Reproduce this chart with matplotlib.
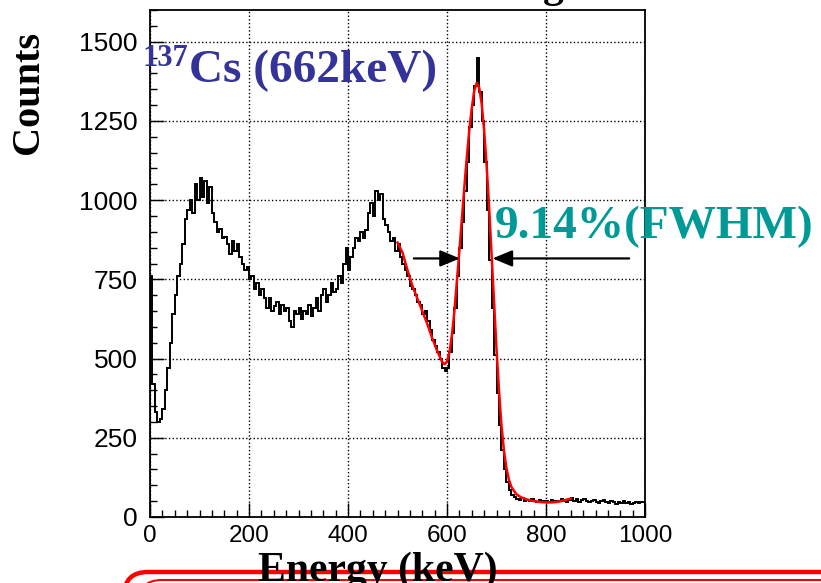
import numpy as np
import matplotlib
matplotlib.use("Agg")
import matplotlib.pyplot as plt
from matplotlib.patches import FancyBboxPatch
from matplotlib.ticker import MultipleLocator

# 137Cs spectrum, 5 keV bins from 0 to 1000 keV
bin_width = 5
counts = [
    760, 420, 330, 300, 310, 340, 400, 470, 550, 640,
    700, 760, 800, 860, 940, 970, 1000, 960, 1050, 1000,
    1070, 1010, 1060, 990, 1040, 960, 930, 900, 910, 880,
    885, 860, 830, 870, 840, 860, 820, 800, 780, 790,
    750, 760, 720, 740, 700, 720, 690, 660, 690, 650,
    665, 680, 640, 670, 650, 660, 620, 600, 650, 640,
    660, 625, 650, 640, 670, 635, 660, 690, 650, 700,
    720, 680, 700, 740, 710, 720, 760, 740, 800, 850,
    780, 820, 850, 880, 870, 900, 880, 905, 960, 990,
    950, 1030, 1000, 1020, 940, 920, 900, 870, 880, 840,
    860, 820, 800, 780, 760, 730, 720, 700, 680, 670,
    640, 650, 620, 590, 560, 540, 520, 500, 470, 460,
    470, 520, 580, 660, 760, 850, 930, 1030, 1120, 1230,
    1300, 1360, 1450, 1340, 1250, 1120, 970, 810, 660, 510,
    390, 290, 210, 150, 110, 85, 70, 62, 58, 55,
    60, 52, 55, 50, 58, 52, 48, 55, 50, 46,
    52, 48, 55, 50, 46, 52, 58, 50, 48, 55,
    60, 52, 56, 48, 54, 58, 50, 46, 52, 55,
    48, 45, 50, 53, 47, 44, 50, 46, 42, 48,
    45, 50, 44, 47, 42, 45, 48, 44, 46, 48,
]

# red fit curve (gaussian + background)
fit_energy = [500, 510, 520, 530, 540, 550, 560, 570, 580, 590, 595,
              600, 605, 610, 615, 620, 625, 630, 635, 640, 645, 650,
              655, 660, 665, 670, 675, 680, 685, 690, 695, 700, 705,
              710, 715, 720, 725, 730, 740, 750, 760, 770, 780, 790,
              800, 810, 820, 830, 840, 850]
fit_counts = [866, 835, 780, 730, 690, 650, 610, 565, 525, 490, 482,
              490, 520, 575, 650, 745, 840, 940, 1040, 1135, 1220, 1290,
              1345, 1370, 1355, 1305, 1220, 1110, 980, 830, 680, 530, 400,
              290, 210, 155, 118, 95, 72, 62, 56, 52, 49, 47,
              46, 46, 47, 50, 54, 58]

x_ticks = [0, 200, 400, 600, 800, 1000]
y_ticks = [0, 250, 500, 750, 1000, 1250, 1500]

fwhm_level = 816
fwhm_left = (533, 626)
fwhm_right = (968, 692)

serif = "Liberation Serif"
sans = "Liberation Sans"

W, H = 821, 583
fig = plt.figure(figsize=(W / 100, H / 100), dpi=100)
fig.patch.set_facecolor("white")

ax = fig.add_axes([150 / W, (H - 517) / H, 495 / W, 507 / H])

edges = np.arange(len(counts) + 1) * bin_width
ax.stairs(counts, edges, color="black", lw=1.4, zorder=3)
ax.plot(fit_energy, fit_counts, color="red", lw=1.8, zorder=4)

ax.set_xlim(0, 1000)
ax.set_ylim(0, 1600)
ax.set_xticks(x_ticks)
ax.set_yticks(y_ticks)
ax.xaxis.set_minor_locator(MultipleLocator(25))
ax.yaxis.set_minor_locator(MultipleLocator(50))
ax.tick_params(which="both", direction="in", top=False, right=False,
               width=1, colors="black")
ax.tick_params(which="major", length=10)
ax.tick_params(which="minor", length=5)
ax.tick_params(axis="x", labelsize=17.5, pad=6)
ax.tick_params(axis="y", labelsize=19, pad=9)
for lab in ax.get_xticklabels() + ax.get_yticklabels():
    lab.set_fontfamily(sans)

ax.grid(True, which="major", linestyle=":", color="black", lw=1)
for sp in ax.spines.values():
    sp.set_linewidth(1.3)
    sp.set_color("black")

# FWHM arrows
arrow = dict(arrowstyle="-|>,head_length=1.2,head_width=0.5",
             color="black", lw=1.6, shrinkA=0, shrinkB=0)
ax.annotate("", xy=(fwhm_left[1], fwhm_level), xytext=(fwhm_left[0], fwhm_level),
            arrowprops=arrow, zorder=5)
ax.annotate("", xy=(fwhm_right[1], fwhm_level), xytext=(fwhm_right[0], fwhm_level),
            arrowprops=arrow, zorder=5)


# annotations (pixel positions converted to figure fraction)
def fx(px):
    return px / W


def fy(py):
    return 1 - py / H


blue = "#333399"
teal = "#009a96"
fig.text(fx(142), fy(66), "137", color=blue, fontsize=22, fontweight="bold",
         family=serif, va="baseline", ha="left")
fig.text(fx(189), fy(82), "Cs (662keV)", color=blue, fontsize=34,
         fontweight="bold", family=serif, va="baseline", ha="left")
fig.text(fx(495), fy(238), "9.14%(FWHM)", color=teal, fontsize=34,
         fontweight="bold", family=serif, va="baseline", ha="left")

fig.text(fx(28), fy(92), "Counts", rotation=90, fontsize=29, fontweight="bold",
         family=serif, ha="center", va="center")
fig.text(fx(378), fy(581), "Energy (keV)", fontsize=30, fontweight="bold",
         family=serif, ha="center", va="baseline")
# descender of the slide title, cut by the top edge
fig.text(fx(553), fy(-3), "g", fontsize=30, fontweight="bold", family=serif,
         ha="center", va="baseline")

# red frame of the next slide element, cut by the bottom edge
outer = FancyBboxPatch((124, -60), 760, 71, boxstyle="round,pad=0,rounding_size=24",
                       transform=None, facecolor="none", edgecolor="red", lw=3.2)
inner = FancyBboxPatch((138, -60), 760, 63, boxstyle="round,pad=0,rounding_size=24",
                       transform=None, facecolor="none", edgecolor="red", lw=1.5)
fig.patches.extend([outer, inner])

fig.savefig("out.png", dpi=100, facecolor="white")
